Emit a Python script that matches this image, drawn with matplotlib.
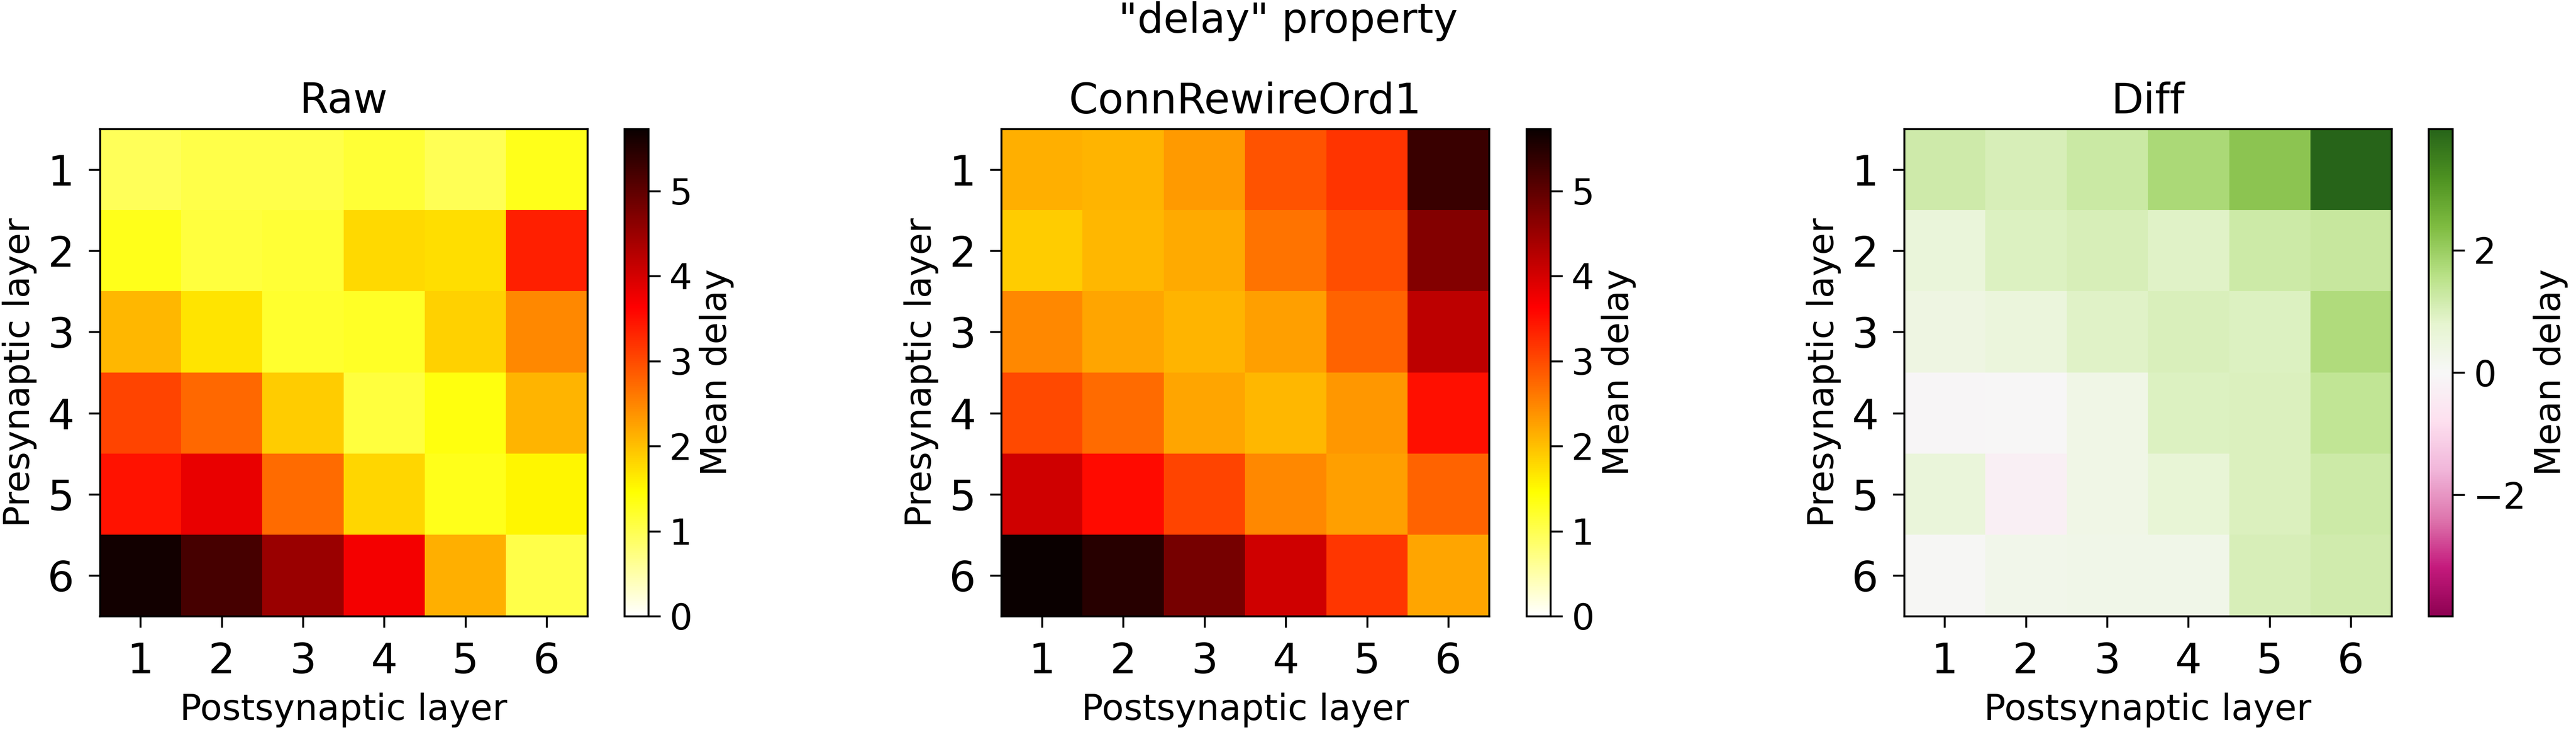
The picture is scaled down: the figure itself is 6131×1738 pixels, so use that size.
import numpy as np
import matplotlib
matplotlib.use("Agg")
import matplotlib.pyplot as plt

# layer labels
layers = ["1", "2", "3", "4", "5", "6"]

# mean delay, rows = presynaptic layer, cols = postsynaptic layer
raw = [
    [0.95, 1.05, 1.05, 1.15, 0.98, 1.30],
    [1.30, 1.10, 1.15, 1.77, 1.73, 3.37],
    [2.06, 1.68, 1.20, 1.25, 1.84, 2.48],
    [3.05, 2.74, 1.89, 1.10, 1.38, 2.09],
    [3.47, 3.81, 2.72, 1.80, 1.30, 1.54],
    [5.65, 5.21, 4.49, 3.72, 2.14, 1.05],
]
rewired = [
    [2.14, 2.09, 2.31, 2.92, 3.20, 5.31],
    [1.89, 2.06, 2.18, 2.65, 2.96, 4.70],
    [2.48, 2.22, 2.09, 2.27, 2.78, 4.19],
    [3.00, 2.72, 2.22, 2.06, 2.35, 3.51],
    [4.03, 3.55, 3.05, 2.48, 2.27, 2.78],
    [5.73, 5.48, 4.80, 4.03, 3.17, 2.22],
]
diff = [
    [1.19, 1.04, 1.26, 1.77, 2.20, 3.98],
    [0.59, 0.96, 1.03, 0.88, 1.23, 1.33],
    [0.42, 0.54, 0.89, 1.02, 0.94, 1.71],
    [-0.05, -0.02, 0.33, 0.96, 0.97, 1.42],
    [0.56, -0.26, 0.33, 0.68, 0.97, 1.24],
    [0.04, 0.27, 0.31, 0.31, 1.03, 1.17],
]

titles = ["Raw", "ConnRewireOrd1", "Diff"]

W, H = 6131, 1738
fig = plt.figure(figsize=(W / 300, H / 300), dpi=300)

lw = 1.1
big = 24
small = 20.5

vmax = max(np.max(raw), np.max(rewired))
dmax = np.max(np.abs(diff))

panels = [
    (raw, "hot_r", 0, vmax),
    (rewired, "hot_r", 0, vmax),
    (diff, "PiYG", -dmax, dmax),
]

ax_left = [236, 2382, 4530]
cb_left = [1486, 3633, 5780]
bottom = (H - 1467) / H
height = 1160 / H
width = 1163 / W

for i, (data, cmap, lo, hi) in enumerate(panels):
    ax = fig.add_axes([ax_left[i] / W, bottom, width, height])
    cax = fig.add_axes([cb_left[i] / W, bottom, 57 / W, height])
    im = ax.imshow(np.array(data), cmap=cmap, vmin=lo, vmax=hi,
                   interpolation="nearest")
    ax.set_xticks(range(len(layers)))
    ax.set_xticklabels(layers)
    ax.set_yticks(range(len(layers)))
    ax.set_yticklabels(layers)
    ax.tick_params(labelsize=big, length=6.5, width=lw, pad=8)
    for s in ax.spines.values():
        s.set_linewidth(lw)
    ax.set_xlabel("Postsynaptic layer", fontsize=small, labelpad=6)
    ax.set_ylabel("Presynaptic layer", fontsize=small, labelpad=6)
    ax.set_title(titles[i], fontsize=big, pad=9)

    cb = fig.colorbar(im, cax=cax)
    cb.set_label("Mean delay", fontsize=small)
    cb.ax.tick_params(labelsize=small, length=7, width=lw, pad=5)
    cb.outline.set_linewidth(lw)

fig.suptitle('"delay" property', fontsize=big - 0.5, y=0.998, va="top")

fig.savefig("out.png", dpi=300)
